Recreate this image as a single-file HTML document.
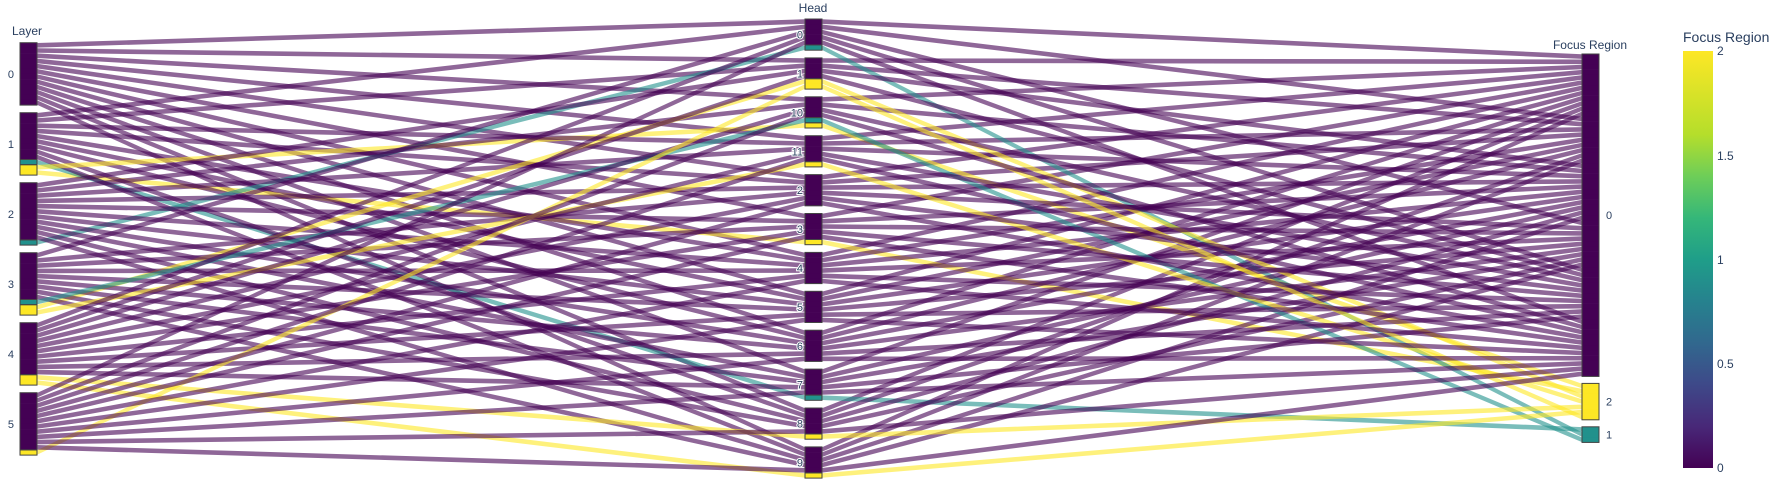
<!DOCTYPE html>
<html><head><meta charset="utf-8"><style>
body{margin:0;background:#fff;}
svg{display:block;font-family:"Liberation Sans",Arial,sans-serif;}
.cl{font-size:11px;fill:#2a3f5f;paint-order:stroke;stroke:#fff;stroke-width:2px;}
.dt{font-size:12px;fill:#2a3f5f;}
</style></head><body>
<svg id="chart" width="1780" height="485">
<defs><linearGradient id="vir" x1="0" y1="1" x2="0" y2="0">
<stop offset="0" stop-color="#440154"/><stop offset="0.1" stop-color="#482878"/><stop offset="0.2" stop-color="#3e4989"/><stop offset="0.3" stop-color="#31688e"/><stop offset="0.4" stop-color="#26828e"/><stop offset="0.5" stop-color="#1f9e89"/><stop offset="0.6" stop-color="#35b779"/><stop offset="0.7" stop-color="#6ece58"/><stop offset="0.8" stop-color="#b5de2b"/><stop offset="1" stop-color="#fde725"/></linearGradient></defs>
<g id="paths"></g><g id="bars"></g><g id="labels"></g>
<g>
<rect x="1683" y="51" width="30" height="417" fill="url(#vir)"/>
<text x="1683" y="42" font-size="14" fill="#2a3f5f">Focus Region</text>
<text x="1717" y="55" font-size="12" fill="#2a3f5f">2</text>
<text x="1717" y="160" font-size="12" fill="#2a3f5f">1.5</text>
<text x="1717" y="264" font-size="12" fill="#2a3f5f">1</text>
<text x="1717" y="368" font-size="12" fill="#2a3f5f">0.5</text>
<text x="1717" y="472" font-size="12" fill="#2a3f5f">0</text>
</g>
</svg>
<script>
const layerCats = [0,1,2,3,4,5];
const headCats = [0,1,10,11,2,3,4,5,6,7,8,9];
const focusCats = [0,2,1];
// focus region per layer, indexed by head number 0..11
const focusL0 = [0,0,0,0,0,0,0,0,0,0,0,0];
const focusL1 = [0,0,0,2,0,0,0,1,0,0,2,0];
const focusL2 = [1,0,0,0,0,0,0,0,0,0,0,0];
const focusL3 = [0,2,0,0,0,0,0,0,0,0,1,2];
const focusL4 = [0,0,0,0,0,0,0,0,2,2,0,0];
const focusL5 = [0,2,0,0,0,0,0,0,0,0,0,0];
const focusByLayer = [focusL0,focusL1,focusL2,focusL3,focusL4,focusL5];

const NS="http://www.w3.org/2000/svg";
const colors={0:"#440154",1:"#21918c",2:"#fde725"};
const H=5.2;
const records=[];
layerCats.forEach(l=>{for(let h=0;h<12;h++){records.push({l:l,h:h,f:focusByLayer[l][h]});}});
const dims=[
 {key:"l",cats:layerCats,x0:20,x1:37,top:(i)=>42.7+i*70},
 {key:"h",cats:headCats,x0:805,x1:822,top:(i)=>19+i*38.9},
 {key:"f",cats:focusCats,x0:1582,x1:1599,top:null}
];
function fTop(i,counts){let y=54;for(let k=0;k<i;k++)y+=counts[k]*H+7;return y;}
function hi(r){return headCats.indexOf(r.h);}
const sortFns=[
 (a,b)=>a.f-b.f||hi(a)-hi(b),
 (a,b)=>a.f-b.f||a.l-b.l,
 (a,b)=>a.l-b.l||hi(a)-hi(b)
];
const fCounts=focusCats.map(c=>records.filter(r=>r.f===c).length);
dims.forEach((d,di)=>{
 d.cats.forEach((c,ci)=>{
  const rs=records.filter(r=>r[d.key]===c).sort(sortFns[di]);
  const t=d.top?d.top(ci):fTop(ci,fCounts);
  rs.forEach((r,k)=>{r["y"+di]=t+k*H;});
  d["bar"+ci]={top:t,rs:rs};
 });
});
const pg=document.getElementById("paths");
records.forEach(r=>{
 for(let s=0;s<2;s++){
  const a=dims[s],b=dims[s+1];
  const ya=r["y"+s],yb=r["y"+(s+1)];
  const p=document.createElementNS(NS,"path");
  const xa=a.x1,xb=b.x0;
  p.setAttribute("d",`M${xa},${ya+0.3}L${xb},${yb+0.3}L${xb},${yb+H-0.3}L${xa},${ya+H-0.3}Z`);
  p.setAttribute("fill",colors[r.f]);
  p.setAttribute("fill-opacity","0.6");
  
  
  pg.appendChild(p);
 }
});
const bg=document.getElementById("bars"),lg=document.getElementById("labels");
const titles=[{t:"Layer",x:12,y:35,a:"start"},{t:"Head",x:813,y:12,a:"middle"},{t:"Focus Region",x:1590,y:49,a:"middle"}];
dims.forEach((d,di)=>{
 const tt=document.createElementNS(NS,"text");
 tt.setAttribute("x",titles[di].x);tt.setAttribute("y",titles[di].y);
 tt.setAttribute("text-anchor",titles[di].a);tt.setAttribute("class","dt");
 tt.textContent=titles[di].t;
 
 
 lg.appendChild(tt);
 d.cats.forEach((c,ci)=>{
  const bar=d["bar"+ci];
  const g=document.createElementNS(NS,"g");
  
  
  bar.rs.forEach((r,k)=>{
   const rc=document.createElementNS(NS,"rect");
   rc.setAttribute("x",d.x0);rc.setAttribute("y",bar.top+k*H);
   rc.setAttribute("width",d.x1-d.x0);rc.setAttribute("height",H+0.3);
   rc.setAttribute("fill",colors[r.f]);
   g.appendChild(rc);
  });
  const groups={};bar.rs.forEach((r,k)=>{if(!groups[r.f])groups[r.f]=[k,k];groups[r.f][1]=k;});
  Object.values(groups).forEach(gk=>{
   const o=document.createElementNS(NS,"rect");
   o.setAttribute("x",d.x0);o.setAttribute("y",bar.top+gk[0]*H);
   o.setAttribute("width",d.x1-d.x0);o.setAttribute("height",(gk[1]-gk[0]+1)*H);
   o.setAttribute("fill","none");o.setAttribute("stroke","#444");o.setAttribute("stroke-width","1");
   g.appendChild(o);
  });
  bg.appendChild(g);
  const tx=document.createElementNS(NS,"text");
  const cy=bar.top+bar.rs.length*H/2+4;
  if(di===0){tx.setAttribute("x",14);tx.setAttribute("text-anchor","end");}
  else if(di===1){tx.setAttribute("x",803);tx.setAttribute("text-anchor","end");}
  else{tx.setAttribute("x",1606);tx.setAttribute("text-anchor","start");}
  tx.setAttribute("y",cy);tx.setAttribute("class","cl");
  tx.textContent=String(c);
  
  
  lg.appendChild(tx);
 });
});
</script>
</body></html>
